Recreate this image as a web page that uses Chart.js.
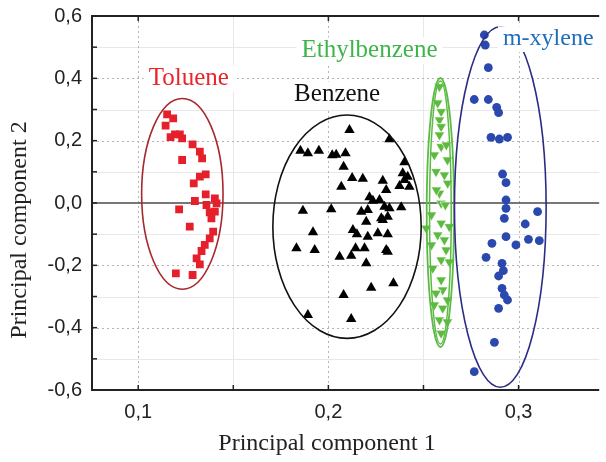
<!DOCTYPE html>
<html>
<head>
<meta charset="utf-8">
<script src="https://cdn.jsdelivr.net/npm/chart.js@4.4.1/dist/chart.umd.min.js"></script>
<style>
  body { margin: 0; background: #fff; }
  canvas { display: block; }
</style>
</head>
<body>
<canvas id="pcaChart" width="606" height="462"></canvas>
<script>
// PC1 / PC2 scores per compound
const tolueneX = [0.1152, 0.1184, 0.1144, 0.1170, 0.1193, 0.1219, 0.1231, 0.1286, 0.1324, 0.1336, 0.1231, 0.1355,
  0.1324, 0.1292, 0.1355, 0.1298, 0.1403, 0.1412, 0.1359, 0.1215, 0.1376, 0.1403, 0.1385, 0.1271, 0.1394, 0.1376,
  0.1350, 0.1333, 0.1307, 0.1324, 0.1198, 0.1286];
const tolueneY = [0.2846, 0.2717, 0.2480, 0.2117, 0.2204, 0.2204, 0.2076, 0.1883, 0.1646, 0.1434, 0.1380, 0.0921,
  0.0844, 0.0632, 0.0279, 0.0064, 0.0151, -0.0010, -0.0064, -0.0202, -0.0298, -0.0279, -0.0491, -0.0760, -0.0921, -0.1133,
  -0.1347, -0.1540, -0.1774, -0.1967, -0.2255, -0.2310];

const benzeneX = [0.2111, 0.2321, 0.1853, 0.1892, 0.1950, 0.2020, 0.2041, 0.2090, 0.2080, 0.2400, 0.2125, 0.2181,
  0.2068, 0.2286, 0.2304, 0.2391, 0.2417, 0.2374, 0.2426, 0.2400, 0.2216, 0.2234, 0.2269, 0.1866, 0.2015, 0.2173,
  0.2207, 0.2295, 0.2321, 0.2383, 0.2278, 0.2312, 0.2199, 0.2286, 0.1919, 0.2129, 0.2150, 0.2207, 0.2260, 0.2312,
  0.1832, 0.1928, 0.2059, 0.2120, 0.2143, 0.2190, 0.2304, 0.2199, 0.2342, 0.2225, 0.2080, 0.1892, 0.2120, 0.2312];
const benzeneY = [0.2342, 0.2044, 0.1678, 0.1594, 0.1678, 0.1530, 0.1550, 0.1594, 0.1165, 0.1306, 0.0802, 0.0780,
  0.0523, 0.0715, 0.0417, 0.0953, 0.0844, 0.0545, 0.0523, 0.0738, 0.0183, 0.0074, 0.0096, -0.0247, -0.0202, -0.0279,
  -0.0225, -0.0119, -0.0170, -0.0138, -0.0491, -0.0440, -0.0600, -0.0545, -0.0940, -0.0866, -0.1004, -0.1081, -0.0972, -0.1004,
  -0.1453, -0.1508, -0.1723, -0.1691, -0.1453, -0.1453, -0.1508, -0.1935, -0.2576, -0.2717, -0.2951, -0.3593, -0.3721, -0.1562];

const ethylbenzeneX = [0.2584, 0.2575, 0.2593, 0.2584, 0.2593, 0.2584, 0.2593, 0.2620, 0.2557, 0.2626, 0.2566, 0.2610,
  0.2627, 0.2584, 0.2568, 0.2593, 0.2615, 0.2542, 0.2593, 0.2636, 0.2514, 0.2575, 0.2610, 0.2542, 0.2619, 0.2593,
  0.2636, 0.2549, 0.2593, 0.2601, 0.2566, 0.2626, 0.2557, 0.2601, 0.2584, 0.2626, 0.2593];
const ethylbenzeneY = [0.3731, 0.3208, 0.2929, 0.2663, 0.2448, 0.2182, 0.1806, 0.1861, 0.1540, 0.1380, 0.1004, 0.0898,
  0.0632, 0.0311, 0.0417, -0.0010, -0.0064, -0.0385, -0.0651, -0.0760, -0.0812, -0.1027, -0.1187, -0.1347, -0.1508, -0.1829,
  -0.1893, -0.2095, -0.2470, -0.2791, -0.2897, -0.3112, -0.3272, -0.3378, -0.3754, -0.3818, -0.4180];

const xyleneX = [0.2820, 0.2825, 0.2841, 0.2767, 0.2841, 0.2885, 0.2895, 0.2855, 0.2899, 0.2942, 0.2916, 0.2934,
  0.2934, 0.2934, 0.2925, 0.3100, 0.3035, 0.2934, 0.2860, 0.2986, 0.3052, 0.3109, 0.2829, 0.2913, 0.2920, 0.2895,
  0.2913, 0.2925, 0.2942, 0.2895, 0.2873, 0.2767];
const xyleneY = [0.5390, 0.5069, 0.4341, 0.3321, 0.3321, 0.3070, 0.2897, 0.2108, 0.2053, 0.2108, 0.0930, 0.0651,
  0.0096, -0.0170, -0.0491, -0.0279, -0.0674, -0.1081, -0.1293, -0.1347, -0.1165, -0.1210, -0.1742, -0.1935, -0.2172, -0.2342,
  -0.2737, -0.2952, -0.3112, -0.3378, -0.4469, -0.5413];

// group ellipses: [centre x, centre y, half width, half height] in score units
const tolueneEllipse = [0.1232, 0.0295, 0.0214, 0.306];
const benzeneEllipse = [0.2098, -0.0760, 0.0390, 0.3583];
const ethylbenzeneEllipseOuter = [0.2589, -0.0305, 0.0072, 0.4315];
const ethylbenzeneEllipseInner = [0.2589, -0.0305, 0.0057, 0.4219];
const xyleneEllipse = [0.2904, -0.0128, 0.0241, 0.5785];

const groupNames = ['Toluene', 'Benzene', 'Ethylbenzene', 'm-xylene'];

const xTicks = [0.1, 0.2, 0.3];
const xMinorTicks = [0.15, 0.25];
const yTicks = [-0.6, -0.4, -0.2, 0, 0.2, 0.4, 0.6];
const yMinorTicks = [-0.5, -0.3, -0.1, 0.1, 0.3, 0.5];

const pairs = (xs, ys) => xs.map((v, i) => ({ x: v, y: ys[i] }));
const comma = v => Number(v).toFixed(1).replace('.', ',');

function seg(ctx, x1, y1, x2, y2) {
  ctx.beginPath();
  ctx.moveTo(x1, y1);
  ctx.lineTo(x2, y2);
  ctx.stroke();
}

const axesFrame = {
  id: 'axesFrame',
  beforeDatasetsDraw(chart) {
    const { ctx, chartArea: a, scales: { x, y } } = chart;
    ctx.save();
    ctx.lineWidth = 1;
    ctx.strokeStyle = '#e8e8e8';
    xMinorTicks.forEach(v => { const p = Math.round(x.getPixelForValue(v)) + 0.5; seg(ctx, p, a.top, p, a.bottom); });
    yMinorTicks.forEach(v => { const p = Math.round(y.getPixelForValue(v)) + 0.5; seg(ctx, a.left, p, a.right, p); });
    ctx.setLineDash([2, 3]);
    ctx.strokeStyle = '#b4b4b4';
    xTicks.forEach(v => { const p = Math.round(x.getPixelForValue(v)) + 0.5; seg(ctx, p, a.top, p, a.bottom); });
    yTicks.filter(v => v !== 0 && Math.abs(v) < 0.6).forEach(v => {
      const p = Math.round(y.getPixelForValue(v)) + 0.5; seg(ctx, a.left, p, a.right, p);
    });
    ctx.setLineDash([]);
    // zero line
    ctx.strokeStyle = '#4a4a4a';
    ctx.lineWidth = 1.5;
    const y0 = y.getPixelForValue(0);
    seg(ctx, a.left, y0, a.right, y0);
    // spines
    ctx.strokeStyle = '#222';
    ctx.lineWidth = 2;
    seg(ctx, a.left, a.top, a.left, a.bottom);
    seg(ctx, a.left - 1, a.bottom, a.right, a.bottom);
    seg(ctx, a.left - 1, a.top, a.right, a.top);
    // inward tick marks
    ctx.lineWidth = 1.5;
    yTicks.concat(yMinorTicks).forEach(v => { const p = y.getPixelForValue(v); seg(ctx, a.left, p, a.left + 5, p); });
    xTicks.concat(xMinorTicks).forEach(v => { const p = x.getPixelForValue(v); seg(ctx, p, a.bottom, p, a.bottom - 5); });
    xTicks.forEach(v => { const p = x.getPixelForValue(v); seg(ctx, p, a.top, p, a.top + 5); });
    ctx.restore();
  }
};

const groupEllipses = {
  id: 'groupEllipses',
  afterDatasetsDraw(chart) {
    const { ctx, scales: { x, y } } = chart;
    const items = [
      [tolueneEllipse, '#a8282e', 1.6],
      [benzeneEllipse, '#111', 1.6],
      [ethylbenzeneEllipseOuter, '#5cbb45', 1.8],
      [ethylbenzeneEllipseInner, '#5cbb45', 1.5],
      [xyleneEllipse, '#2c2c86', 1.6]
    ];
    ctx.save();
    items.forEach(([e, color, w]) => {
      const cx = x.getPixelForValue(e[0]);
      const cy = y.getPixelForValue(e[1]);
      const rx = Math.abs(x.getPixelForValue(e[0] + e[2]) - cx);
      const ry = Math.abs(y.getPixelForValue(e[1] + e[3]) - cy);
      ctx.strokeStyle = color;
      ctx.lineWidth = w;
      ctx.beginPath();
      ctx.ellipse(cx, cy, rx, ry, 0, 0, Math.PI * 2);
      ctx.stroke();
    });

    // group names on white boxes
    const labels = [
      [groupNames[0], 0.1266, 0.3786, '#e8262b', 25],
      [groupNames[1], 0.2046, 0.3272, '#111', 25],
      [groupNames[2], 0.2216, 0.4684, '#3db54a', 25],
      [groupNames[3], 0.3156, 0.5069, '#1f6dbd', 24]
    ];
    ctx.textAlign = 'center';
    ctx.textBaseline = 'alphabetic';
    labels.forEach(([text, lx, ly, color, size]) => {
      ctx.font = size + 'px "Liberation Serif", "Times New Roman", serif';
      const px = x.getPixelForValue(lx);
      const py = y.getPixelForValue(ly);
      const w = ctx.measureText(text).width;
      ctx.fillStyle = '#fff';
      ctx.fillRect(px - w / 2 - 5, py - size * 0.78, w + 10, size * 0.78 + 7);
      ctx.fillStyle = color;
      ctx.fillText(text, px, py);
    });
    ctx.restore();
  },
  afterDraw(chart) {
    const { ctx } = chart;
    ctx.save();
    ctx.fillStyle = '#222';
    ctx.font = '24px "Liberation Serif", "Times New Roman", serif';
    ctx.textAlign = 'center';
    ctx.textBaseline = 'alphabetic';
    ctx.fillText('Principal component 1', 327, 450);
    ctx.translate(26, 230);
    ctx.rotate(-Math.PI / 2);
    ctx.fillText('Principal component 2', 0, 0);
    ctx.restore();
  }
};

const tickFont = { family: '"Liberation Sans", Arial, sans-serif', size: 20 };

new Chart(document.getElementById('pcaChart'), {
  type: 'scatter',
  data: {
    datasets: [
      { label: groupNames[0], data: pairs(tolueneX, tolueneY), pointStyle: 'rect', pointRadius: 5.5,
        backgroundColor: '#e5202a', borderColor: '#e5202a', borderWidth: 0 },
      { label: groupNames[1], data: pairs(benzeneX, benzeneY), pointStyle: 'triangle', pointRadius: 6,
        backgroundColor: '#000', borderColor: '#000', borderWidth: 0 },
      { label: groupNames[2], data: pairs(ethylbenzeneX, ethylbenzeneY), pointStyle: 'triangle', pointRotation: 180,
        pointRadius: 6, backgroundColor: '#5cbb3e', borderColor: 'rgba(255,255,255,0.8)', borderWidth: 0.8 },
      { label: groupNames[3], data: pairs(xyleneX, xyleneY), pointStyle: 'circle', pointRadius: 4.4,
        backgroundColor: '#2a48ad', borderColor: '#2a48ad', borderWidth: 0 }
    ]
  },
  options: {
    responsive: false,
    animation: false,
    events: [],
    layout: { padding: { top: 16, right: 6, left: 0, bottom: 0 } },
    plugins: { legend: { display: false }, tooltip: { enabled: false } },
    scales: {
      x: {
        type: 'linear',
        min: 0.0757,
        max: 0.3424,
        afterBuildTicks: s => { s.ticks = xTicks.map(v => ({ value: v })); },
        afterFit: s => { s.height = 72; s.paddingLeft = 0; s.paddingRight = 0; },
        ticks: { callback: comma, font: tickFont, color: '#222', padding: 10, maxRotation: 0, autoSkip: false },
        grid: { display: false, drawTicks: false },
        border: { display: false }
      },
      y: {
        min: -0.6,
        max: 0.6,
        afterBuildTicks: s => { s.ticks = yTicks.map(v => ({ value: v })); },
        afterFit: s => { s.width = 92; s.paddingTop = 0; s.paddingBottom = 0; },
        ticks: { callback: comma, font: tickFont, color: '#222', padding: 10, autoSkip: false },
        grid: { display: false, drawTicks: false },
        border: { display: false }
      }
    }
  },
  plugins: [axesFrame, groupEllipses]
});
</script>
</body>
</html>
